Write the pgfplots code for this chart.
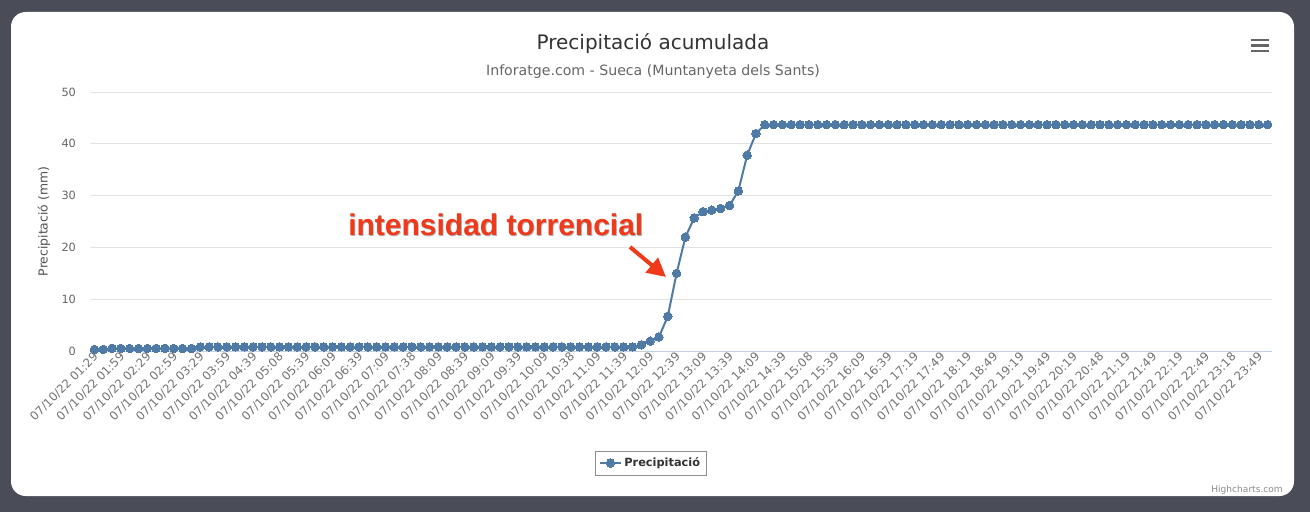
\documentclass[border=0pt]{standalone}
\usepackage{pgfplots}
\usepackage{pgfplotstable}
\pgfplotsset{compat=1.18}
\usepackage{fontspec}
\setmainfont{DejaVu Sans}
\newfontfamily\annfont{Liberation Sans}
\usetikzlibrary{arrows.meta}
\definecolor{bgdark}{RGB}{74,77,87}
\definecolor{series}{RGB}{80,122,166}
\definecolor{gridc}{RGB}{226,226,226}
\definecolor{axisc}{RGB}{192,208,224}
\definecolor{tickc}{RGB}{102,102,102}
\definecolor{xtickc}{RGB}{115,115,115}
\definecolor{titlec}{RGB}{51,51,51}
\definecolor{annred}{RGB}{240,56,26}

\pgfplotstableread[row sep=\\]{
v\\
0.3\\ 0.3\\
0.5\\ 0.5\\ 0.5\\ 0.5\\ 0.5\\ 0.5\\ 0.5\\ 0.5\\ 0.5\\ 0.5\\
0.8\\ 0.8\\ 0.8\\ 0.8\\ 0.8\\ 0.8\\ 0.8\\ 0.8\\ 0.8\\ 0.8\\
0.8\\ 0.8\\ 0.8\\ 0.8\\ 0.8\\ 0.8\\ 0.8\\ 0.8\\ 0.8\\ 0.8\\
0.8\\ 0.8\\ 0.8\\ 0.8\\ 0.8\\ 0.8\\ 0.8\\ 0.8\\ 0.8\\ 0.8\\
0.8\\ 0.8\\ 0.8\\ 0.8\\ 0.8\\ 0.8\\ 0.8\\ 0.8\\ 0.8\\ 0.8\\
0.8\\ 0.8\\ 0.8\\ 0.8\\ 0.8\\ 0.8\\ 0.8\\ 0.8\\ 0.8\\ 0.8\\
1.2\\ 1.9\\ 2.7\\ 6.7\\ 15.0\\ 22.0\\ 25.7\\ 26.9\\ 27.2\\ 27.5\\
28.1\\ 30.9\\ 37.8\\ 42.0\\
43.7\\ 43.7\\ 43.7\\ 43.7\\ 43.7\\ 43.7\\ 43.7\\ 43.7\\ 43.7\\ 43.7\\
43.7\\ 43.7\\ 43.7\\ 43.7\\ 43.7\\ 43.7\\ 43.7\\ 43.7\\ 43.7\\ 43.7\\
43.7\\ 43.7\\ 43.7\\ 43.7\\ 43.7\\ 43.7\\ 43.7\\ 43.7\\ 43.7\\ 43.7\\
43.7\\ 43.7\\ 43.7\\ 43.7\\ 43.7\\ 43.7\\ 43.7\\ 43.7\\ 43.7\\ 43.7\\
43.7\\ 43.7\\ 43.7\\ 43.7\\ 43.7\\ 43.7\\ 43.7\\ 43.7\\ 43.7\\ 43.7\\
43.7\\ 43.7\\ 43.7\\ 43.7\\ 43.7\\ 43.7\\ 43.7\\ 43.7\\
}\precip

\begin{document}
\begin{tikzpicture}[x=0.75pt,y=0.75pt]
\fill[bgdark] (0,0) rectangle (1310,512);
\useasboundingbox (0,0) rectangle (1310,512);
\fill[white, rounded corners=11pt] (11,16) rectangle (1294,500);
\node[font=\fontsize{15}{18}\selectfont, text=titlec] at (653,468) {Precipitació acumulada};
\node[font=\fontsize{10.6}{13}\selectfont, text=tickc] at (653,440) {Inforatge.com - Sueca (Muntanyeta dels Sants)};
\foreach \yy in {472,466.5,461} \draw[line width=1.9pt, tickc] (1251,\yy) -- (1269,\yy);
\node[anchor=base east, font=\fontsize{6.8}{8}\selectfont, text=black!45, inner sep=0] at (1283,20) {Highcharts.com};

\begin{axis}[
  at={(67.5pt,120.75pt)}, anchor=south west,
  width=886.5pt, height=194.25pt, scale only axis,
  xmin=-0.5, xmax=133.5, ymin=0, ymax=50,
  ytick={0,10,20,30,40,50},
  xtick={0,3,...,132},
  xticklabels={07/10/22 01:29,07/10/22 01:59,07/10/22 02:29,07/10/22 02:59,07/10/22 03:29,07/10/22 03:59,07/10/22 04:39,07/10/22 05:08,07/10/22 05:39,07/10/22 06:09,07/10/22 06:39,07/10/22 07:09,07/10/22 07:38,07/10/22 08:09,07/10/22 08:39,07/10/22 09:09,07/10/22 09:39,07/10/22 10:09,07/10/22 10:38,07/10/22 11:09,07/10/22 11:39,07/10/22 12:09,07/10/22 12:39,07/10/22 13:09,07/10/22 13:39,07/10/22 14:09,07/10/22 14:39,07/10/22 15:08,07/10/22 15:39,07/10/22 16:09,07/10/22 16:39,07/10/22 17:19,07/10/22 17:49,07/10/22 18:19,07/10/22 18:49,07/10/22 19:19,07/10/22 19:49,07/10/22 20:19,07/10/22 20:48,07/10/22 21:19,07/10/22 21:49,07/10/22 22:19,07/10/22 22:49,07/10/22 23:18,07/10/22 23:49},
  ymajorgrids, major grid style={gridc, line width=0.75pt},
  axis lines*=left,
  y axis line style={draw=none},
  x axis line style={axisc, line width=0.75pt},
  major tick length=0pt,
  tick label style={text=tickc},
  yticklabel style={font=\fontsize{8.5}{10}\selectfont, xshift=-7pt},
  xticklabel style={font=\fontsize{8.8}{10}\selectfont, text=xtickc, rotate=45, anchor=east, inner sep=1pt, yshift=-3pt},
  /pgf/number format/assume math mode=true,
  ylabel={Precipitació (mm)},
  ylabel style={font=\fontsize{9.3}{11}\selectfont, text=tickc!80!black, at={(axis description cs:-0.0389,0.5)}, anchor=center},
  legend style={at={(axis description cs:0.4746,-0.4324)}, anchor=center, draw=black!45, font=\bfseries\fontsize{8.5}{10}\selectfont, text=titlec, inner sep=3pt},
  legend image code/.code={\draw[mark repeat=2,mark phase=2] plot coordinates {(0cm,0cm) (0.27cm,0cm) (0.54cm,0cm)};},
  clip=false,
]
\addplot[series, line width=1.5pt, mark=*, mark size=3.2pt, mark options={fill=series, draw=series, line width=0pt}] table[x expr=\coordindex, y=v] {\precip};
\addlegendentry{Precipitació}
\end{axis}

\node[anchor=base west, font=\annfont\bfseries\fontsize{22.5}{26}\selectfont, text=black!30, inner sep=0] at (348.8,275.8) {intensidad torrencial};
\node[anchor=base west, font=\annfont\bfseries\fontsize{22.5}{26}\selectfont, text=annred, inner sep=0] at (348,277) {intensidad torrencial};
\draw[annred, line width=3pt, -{Triangle[length=14pt,width=14pt]}] (630,265) -- (666,235);
\end{tikzpicture}
\end{document}
